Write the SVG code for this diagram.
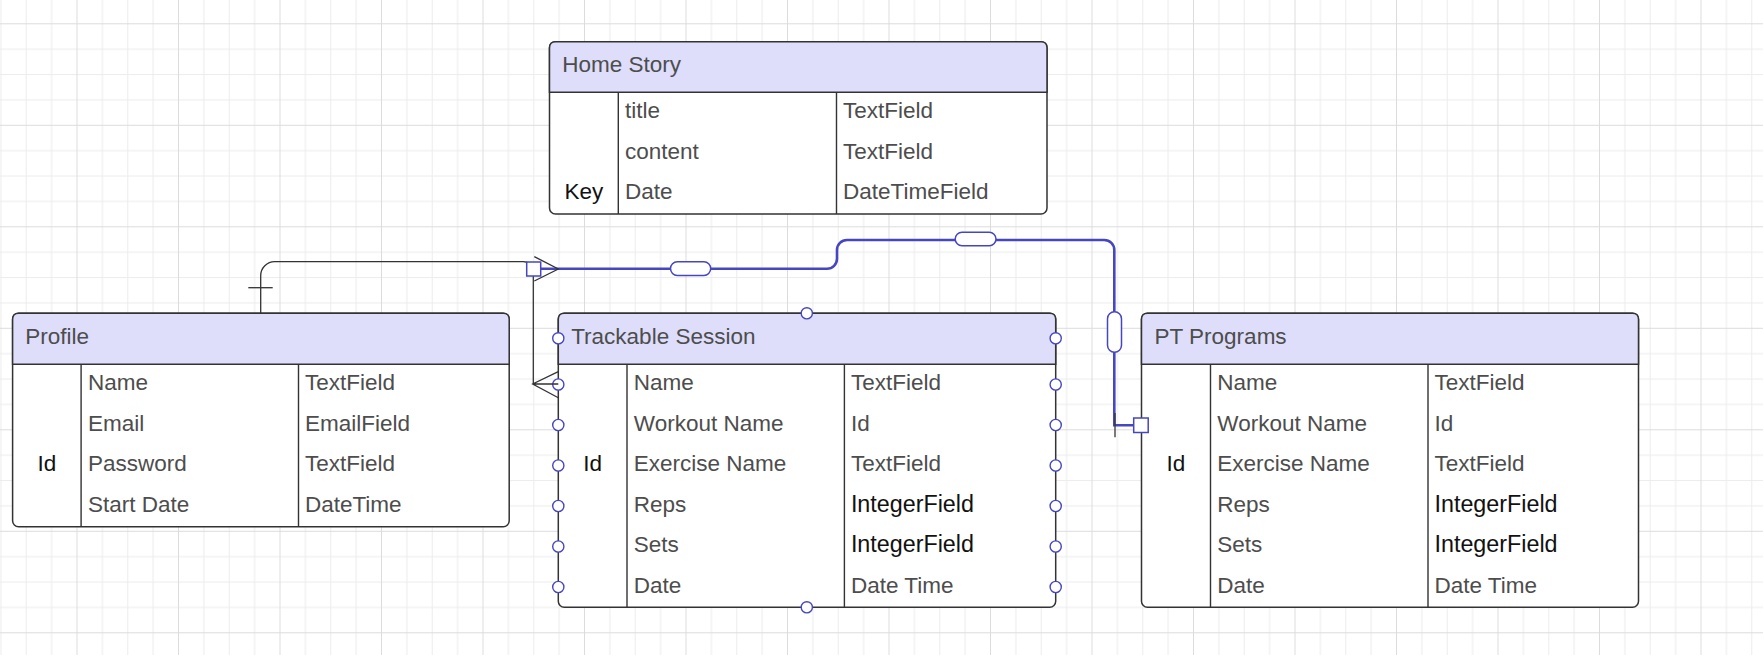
<svg xmlns="http://www.w3.org/2000/svg" width="1763" height="655" viewBox="0 0 1763 655">
<defs>
<pattern id="grid" patternUnits="userSpaceOnUse" x="76.5" y="23.3" width="101.5" height="101.5">
<path d="M25.875 0V101.5M51.25 0V101.5M76.625 0V101.5M0 25.875H101.5M0 51.25H101.5M0 76.625H101.5" stroke="#ececec" stroke-width="1" fill="none"/>
<path d="M0.5 0V101.5M0 0.5H101.5" stroke="#dcdcdc" stroke-width="1" fill="none"/>
</pattern>
<style>
.box{fill:#fff;stroke:#333;stroke-width:1.5}
.hdr{fill:#dedefb;stroke:#333;stroke-width:1.5}
.div{stroke:#333;stroke-width:1.4;fill:none}
text{font-family:"Liberation Sans",Arial,sans-serif;font-size:22.5px;fill:#4d4d4d}
.k{fill:#111}
.c{text-anchor:middle}
.int{fill:#111;font-size:23.3px}
.blk{stroke:#333;stroke-width:1.3;fill:none}
.blu{stroke:#4646c2;stroke-width:2.6;fill:none}
.mk{stroke:#4646c2;stroke-width:1.5;fill:#fff}
.hd{stroke:#4646c2;stroke-width:1.4;fill:#fff}
</style>
</defs>
<rect width="1763" height="655" fill="#fff"/>
<rect width="1763" height="655" fill="url(#grid)"/>

<g id="home-story" transform="translate(549.5,41.7)">
<rect class="box" x="0" y="0" width="497.5" height="172.3" rx="6"/>
<path class="hdr" d="M0 50.6V6Q0 0 6 0H491.5Q497.5 0 497.5 6V50.6Z"/>
<path class="div" d="M68.8 50.6V172.3M287 50.6V172.3"/>
<text x="12.8" y="30.6">Home Story</text>
<text x="75.5" y="76.5">title</text><text x="293.5" y="76.5">TextField</text>
<text x="75.5" y="117">content</text><text x="293.5" y="117">TextField</text>
<text class="k c" x="34.4" y="157.5">Key</text><text x="75.5" y="157.5">Date</text><text x="293.5" y="157.5">DateTimeField</text>
</g>

<g id="profile" transform="translate(12.6,313.3)">
<rect class="box" x="0" y="0" width="496.6" height="213.4" rx="6"/>
<path class="hdr" d="M0 51V6Q0 0 6 0H490.6Q496.6 0 496.6 6V51Z"/>
<path class="div" d="M68.5 51V213.4M285.9 51V213.4"/>
<text x="12.7" y="30.8">Profile</text>
<text x="75.3" y="76.9">Name</text><text x="292.3" y="76.9">TextField</text>
<text x="75.3" y="117.4">Email</text><text x="292.3" y="117.4">EmailField</text>
<text class="k c" x="34.2" y="157.9">Id</text><text x="75.3" y="157.9">Password</text><text x="292.3" y="157.9">TextField</text>
<text x="75.3" y="198.4">Start Date</text><text x="292.3" y="198.4">DateTime</text>
</g>

<g id="trackable-session" transform="translate(558.3,313.3)">
<rect class="box" x="0" y="0" width="497.4" height="294" rx="6"/>
<path class="hdr" d="M0 51V6Q0 0 6 0H491.4Q497.4 0 497.4 6V51Z"/>
<path class="div" d="M68.7 51V294M286.1 51V294"/>
<text x="12.9" y="30.8">Trackable Session</text>
<text x="75.5" y="76.9">Name</text><text x="292.6" y="76.9">TextField</text>
<text x="75.5" y="117.4">Workout Name</text><text x="292.6" y="117.4">Id</text>
<text class="k c" x="34.3" y="157.9">Id</text><text x="75.5" y="157.9">Exercise Name</text><text x="292.6" y="157.9">TextField</text>
<text x="75.5" y="198.4">Reps</text><text class="int" x="292.6" y="198.4">IntegerField</text>
<text x="75.5" y="238.9">Sets</text><text class="int" x="292.6" y="238.9">IntegerField</text>
<text x="75.5" y="279.4">Date</text><text x="292.6" y="279.4">Date Time</text>
<g id="handles">
<circle class="hd" cx="248.5" cy="0" r="5.6"/><circle class="hd" cx="248.5" cy="294" r="5.6"/>
<circle class="hd" cx="0" cy="25" r="5.6"/><circle class="hd" cx="0" cy="71.2" r="5.6"/><circle class="hd" cx="0" cy="111.7" r="5.6"/><circle class="hd" cx="0" cy="152.2" r="5.6"/><circle class="hd" cx="0" cy="192.7" r="5.6"/><circle class="hd" cx="0" cy="233.2" r="5.6"/><circle class="hd" cx="0" cy="273.7" r="5.6"/>
<circle class="hd" cx="497.4" cy="25" r="5.6"/><circle class="hd" cx="497.4" cy="71.2" r="5.6"/><circle class="hd" cx="497.4" cy="111.7" r="5.6"/><circle class="hd" cx="497.4" cy="152.2" r="5.6"/><circle class="hd" cx="497.4" cy="192.7" r="5.6"/><circle class="hd" cx="497.4" cy="233.2" r="5.6"/><circle class="hd" cx="497.4" cy="273.7" r="5.6"/>
</g>
</g>

<g id="pt-programs" transform="translate(1141.5,313.3)">
<rect class="box" x="0" y="0" width="497" height="294" rx="6"/>
<path class="hdr" d="M0 51V6Q0 0 6 0H491Q497 0 497 6V51Z"/>
<path class="div" d="M69 51V294M286.5 51V294"/>
<text x="13" y="30.8">PT Programs</text>
<text x="75.8" y="76.9">Name</text><text x="293" y="76.9">TextField</text>
<text x="75.8" y="117.4">Workout Name</text><text x="293" y="117.4">Id</text>
<text class="k c" x="34.5" y="157.9">Id</text><text x="75.8" y="157.9">Exercise Name</text><text x="293" y="157.9">TextField</text>
<text x="75.8" y="198.4">Reps</text><text class="int" x="293" y="198.4">IntegerField</text>
<text x="75.8" y="238.9">Sets</text><text class="int" x="293" y="238.9">IntegerField</text>
<text x="75.8" y="279.4">Date</text><text x="293" y="279.4">Date Time</text>
</g>

<g id="connectors">
<path class="blk" d="M260.7 313.3V275.7A14 14 0 0 1 274.7 261.7H523.3A10 10 0 0 1 533.3 271.7V384"/>
<path class="blk" d="M248.3 287.7H272.7"/>
<path class="blk" d="M558.3 371.7L532.7 384L558.3 397.7M532.7 384H558.3"/>
<path class="blu" d="M540.7 268.8H827A10 10 0 0 0 837 258.8V250A10 10 0 0 1 847 240H1104.3A10 10 0 0 1 1114.3 250V425.2H1133.7"/>
<path class="blk" d="M534.3 256.7L558.3 269L534.3 281"/>
<path class="blk" d="M1115 413V437.3"/>
<rect class="mk" x="526.7" y="262" width="14" height="14"/>
<rect class="mk" x="1133.7" y="418" width="14.5" height="14.5"/>
<rect class="mk" x="670.5" y="261.8" width="40.2" height="13.6" rx="6.8"/>
<rect class="mk" x="955.2" y="232.2" width="40.8" height="13.6" rx="6.8"/>
<rect class="mk" x="1107.5" y="311.7" width="14" height="40.6" rx="7"/>
</g>
</svg>
